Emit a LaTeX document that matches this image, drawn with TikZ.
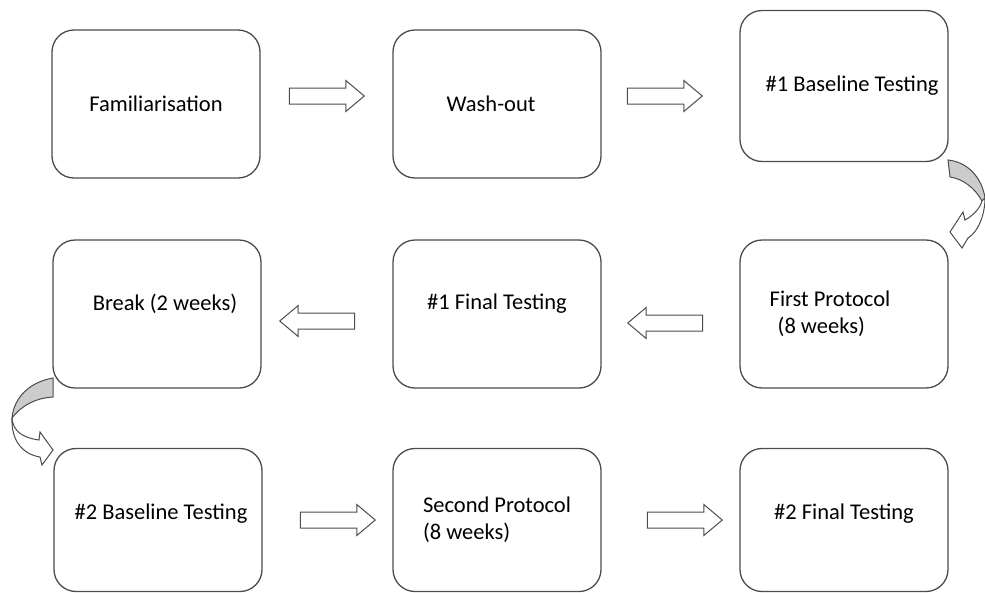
\documentclass[tikz,border=0pt]{standalone}
\usepackage{fontspec}
\setmainfont{Carlito}
\usetikzlibrary{shapes.arrows}
\newcommand{\liftby}[2]{\raisebox{#1}[\height][\depth]{#2}}

\begin{document}
\begin{tikzpicture}[x=1pt, y=-1pt,
    stage/.style={draw=black!70, line width=1.3pt, rounded corners=22pt, minimum width=208pt, minimum height=148pt, inner sep=0pt, align=left, font=\fontsize{22.5}{27}\selectfont},
    blockarrow/.style={single arrow, draw=black!70, line width=1pt, fill=white, minimum height=75pt, inner sep=7.5pt, single arrow head extend=7.5pt, single arrow tip angle=80},
    curvedbit/.style={draw=black!70, line width=1pt}]
    \useasboundingbox (0,0) rectangle (985,592);

    % Stages
    \node[stage] (Fam) at (156,104) {Familiarisation};
    \node[stage] (Wash) at (497,104) {Wash-out\hspace*{12pt}};
    \node[stage, minimum height=151pt] (BaseOne) at (844,86) {\hspace*{16pt}\#1 Baseline Testing};
    \node[stage] (Break) at (157,314) {\hspace*{16pt}\liftby{10pt}{Break (2 weeks)}};
    \node[stage] (FinalOne) at (497,314) {\liftby{10pt}{\#1 Final Testing}};
    \node[stage] (ProtOne) at (844,314) {First Protocol\hspace*{28pt}\\\hspace*{8pt}(8 weeks)};
    \node[stage, minimum height=143pt] (BaseTwo) at (158,520) {\hspace*{6pt}\liftby{6pt}{\#2 Baseline Testing}};
    \node[stage, minimum height=143pt] (ProtTwo) at (497,520) {Second Protocol\\(8 weeks)};
    \node[stage, minimum height=143pt] (FinalTwo) at (844,520) {\liftby{6pt}{\#2 Final Testing}};

    % Block arrows
    \node[blockarrow] (FamWash) at (322,96) {};
    \node[blockarrow] (WashBase) at (660,96) {};
    \node[blockarrow, shape border rotate=180] (ProtFinal) at (670,323) {};
    \node[blockarrow, shape border rotate=180] (FinalBreak) at (322,321) {};
    \node[blockarrow] (BaseProt) at (333,520) {};
    \node[blockarrow] (ProtFin) at (680,520) {};

    % Curved arrows
    \draw[curvedbit, fill=black!20] (948,160) .. controls (968,162) and (982,178) .. (985,198) -- (982,201) .. controls (975,188) and (963,179) .. (950,177) -- cycle;
    \draw[curvedbit, fill=white] (985,198) .. controls (985,215) and (978,232) .. (968,238) -- (962,248) -- (950,232) -- (963,212) -- (965,220) .. controls (974,215) and (980,208) .. (982,201) -- cycle;
    \draw[curvedbit, fill=black!20] (53,378) .. controls (30,382) and (14,397) .. (12,418) .. controls (22,405) and (36,398) .. (53,397) -- cycle;
    \draw[curvedbit, fill=white] (12,418) .. controls (13,432) and (24,438) .. (39,440) -- (40,432) -- (53,450) -- (42,465) -- (40,457) .. controls (22,454) and (11,440) .. (12,418) -- cycle;
\end{tikzpicture}
\end{document}
